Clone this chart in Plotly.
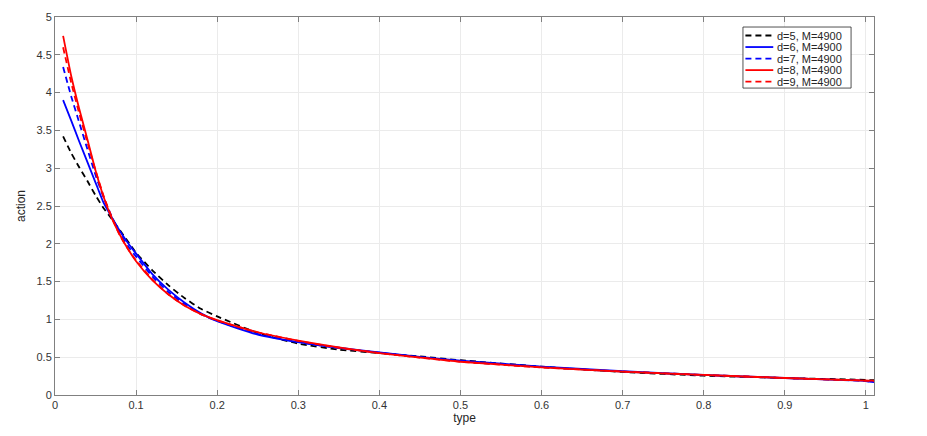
import plotly.graph_objects as go

# sample points along "type"
x = [0.01, 0.02, 0.03, 0.04, 0.05, 0.06, 0.07, 0.08, 0.09, 0.1,
     0.12, 0.14, 0.16, 0.18, 0.2, 0.25, 0.3, 0.35, 0.4, 0.45,
     0.5, 0.6, 0.7, 0.8, 0.9, 1.0, 1.01]

# action values, one list per d
d5 = [3.42, 3.2, 3.01, 2.83, 2.64, 2.47, 2.33, 2.18, 2.03, 1.88,
      1.65, 1.45, 1.28, 1.14, 1.04, 0.82, 0.68, 0.6, 0.555, 0.51,
      0.46, 0.375, 0.305, 0.255, 0.225, 0.2, 0.195]
d6 = [3.9, 3.63, 3.35, 3.08, 2.81, 2.54, 2.35, 2.17, 2.01, 1.87,
      1.6, 1.39, 1.22, 1.08, 0.975, 0.8, 0.7, 0.625, 0.565, 0.505,
      0.455, 0.375, 0.315, 0.265, 0.225, 0.185, 0.17]
d7 = [4.34, 3.95, 3.6, 3.25, 2.91, 2.61, 2.36, 2.14, 1.97, 1.83,
      1.57, 1.36, 1.2, 1.07, 0.98, 0.81, 0.7, 0.62, 0.56, 0.5,
      0.445, 0.37, 0.31, 0.265, 0.225, 0.185, 0.175]
d8 = [4.75, 4.22, 3.78, 3.38, 2.97, 2.62, 2.34, 2.12, 1.93, 1.77,
      1.52, 1.33, 1.18, 1.07, 0.99, 0.83, 0.72, 0.63, 0.555, 0.495,
      0.44, 0.365, 0.31, 0.265, 0.225, 0.19, 0.19]
d9 = [4.6, 4.13, 3.72, 3.34, 2.97, 2.63, 2.35, 2.11, 1.93, 1.78,
      1.53, 1.33, 1.18, 1.07, 0.985, 0.83, 0.715, 0.625, 0.555, 0.495,
      0.44, 0.365, 0.31, 0.265, 0.225, 0.19, 0.185]

names = ['d=5, M=4900', 'd=6, M=4900', 'd=7, M=4900', 'd=8, M=4900', 'd=9, M=4900']
values = [d5, d6, d7, d8, d9]
colors = ['black', 'blue', 'blue', 'red', 'red']
dashes = ['6px,4px', 'solid', '6px,4px', 'solid', '6px,4px']

fig = go.Figure()
for name, y, color, dash in zip(names, values, colors, dashes):
    fig.add_trace(go.Scatter(
        x=x, y=y, mode='lines', name=name, showlegend=False,
        line=dict(color=color, width=1.8, dash=dash, shape='spline', smoothing=0.5),
    ))

# MATLAB-style compact legend box, drawn in paper coordinates
lx0, lx1, ly0, ly1 = 0.840, 0.972, 0.812, 0.9735
row_top, row_step = 0.951, 0.0305
fig.add_shape(type='rect', xref='paper', yref='paper', x0=lx0, x1=lx1, y0=ly0, y1=ly1,
              line=dict(color='#262626', width=0.8), fillcolor='white', layer='above')
for n, (name, color, dash) in enumerate(zip(names, colors, dashes)):
    yy = row_top - n * row_step
    fig.add_shape(type='line', xref='paper', yref='paper', x0=0.843, x1=0.877, y0=yy, y1=yy,
                  line=dict(color=color, width=1.8, dash=dash), layer='above')
    fig.add_annotation(xref='paper', yref='paper', x=0.879, y=yy, text=name, showarrow=False,
                       xanchor='left', yanchor='middle',
                       font=dict(family='Liberation Sans', size=11, color='#262626'))

axis_style = dict(
    showline=True, linecolor='#808080', linewidth=1, mirror='ticks',
    ticks='inside', ticklen=5, tickcolor='#808080',
    showgrid=True, gridcolor='#ebebeb', zeroline=False, automargin=False,
    tickfont=dict(family='Liberation Sans', size=11, color='#333333'),
)

# page body has an 8px default margin, so the figure is shrunk by that amount
fig.update_layout(
    width=919, height=428,
    margin=dict(l=47, r=53, t=9, b=41),
    paper_bgcolor='white', plot_bgcolor='white',
    font=dict(family='Liberation Sans', size=11, color='#262626'),
    showlegend=False,
    xaxis=dict(range=[0, 1.01], dtick=0.1, tick0=0,
               title=dict(text='type', standoff=2, font=dict(size=12)), **axis_style),
    yaxis=dict(range=[0, 5], dtick=0.5, tick0=0,
               title=dict(text='action', standoff=8, font=dict(size=12)), **axis_style),
)

fig.write_html('out.html')
